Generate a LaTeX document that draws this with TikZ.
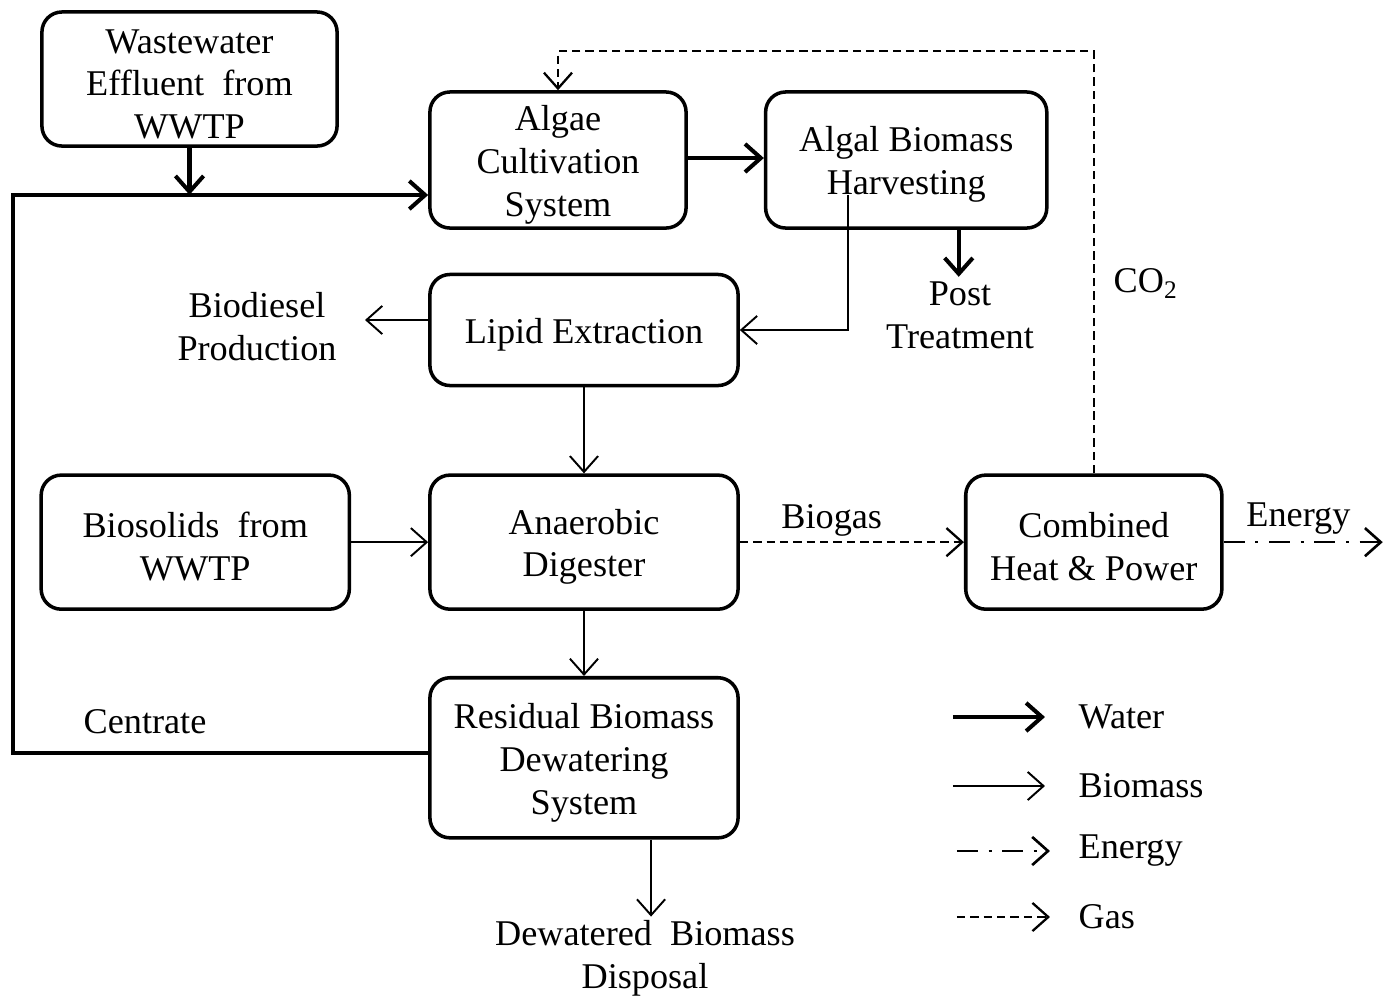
\documentclass[tikz,border=0pt]{standalone}
\usepackage{fontspec}
\setmainfont{Liberation Serif}
\usetikzlibrary{arrows.meta,positioning}
\newcommand{\topgap}{\rule{0pt}{9.8pt}}

\begin{document}
\begin{tikzpicture}[x=0.01cm,y=-0.01cm,>={Straight Barb[length=4.5pt,width=8pt]},
		font=\fontsize{10.3}{12.2}\selectfont,
		base node/.style={draw,rounded corners=5.7pt,line width=1pt,align=center,inner sep=0pt},
		label node/.style={align=center,inner sep=0pt},
		water/.style={->,line width=1.15pt},
		biomass/.style={->,line width=0.55pt},
		gas/.style={->,line width=0.65pt,dash pattern=on 2.4pt off 1.4pt},
		energy/.style={->,line width=0.75pt,dash pattern=on 6pt off 3pt on 0.9pt off 3pt}]
		
		\useasboundingbox (0,0) rectangle (1396,996);
		
		% process boxes
		\node[base node,minimum width=2.95cm,minimum height=1.34cm] (ww) at (189.5,79)
			{\topgap Wastewater\\Effluent\ \ from\\WWTP};
		\node[base node,minimum width=2.56cm,minimum height=1.36cm] (algae) at (558,160)
			{\topgap Algae\\Cultivation\\System};
		\node[base node,minimum width=2.81cm,minimum height=1.36cm] (harvest) [right=0.76cm of algae]
			{\topgap Algal Biomass\\Harvesting};
		\node[base node,minimum width=3.08cm,minimum height=1.11cm] (lipid) at (584,330)
			{\topgap Lipid Extraction};
		\node[base node,minimum width=3.08cm,minimum height=1.34cm] (anaer) [below=0.86cm of lipid]
			{\topgap Anaerobic\\Digester};
		\node[base node,minimum width=3.08cm,minimum height=1.34cm] (biosol) [left=0.77cm of anaer]
			{\topgap Biosolids\ \ from\\WWTP};
		\node[base node,minimum width=2.56cm,minimum height=1.34cm] (chp) [right=2.24cm of anaer]
			{\topgap Combined\\Heat \& Power};
		\node[base node,minimum width=3.08cm,minimum height=1.6cm] (resid) [below=0.65cm of anaer]
			{\topgap Residual Biomass\\Dewatering\\System};
		
		% outputs
		\node[label node] (biodiesel) at (257,327) {Biodiesel\\Production};
		\node[label node] (post) at (960,315) {Post\\Treatment};
		\node[label node] (disposal) at (645,958) {Dewatered\ \ Biomass\\Disposal};
		\node[label node] (centrate) at (145,722) {Centrate};
		\coordinate (biodieselin) at (365,320);
		\coordinate (energyout) at ([xshift=1.59cm]chp.east);
		
		% water
		\draw[water] (ww.south) -- ++(0,47);
		\draw[water] ([yshift=0.05cm]resid.west) -- ++(-415,0) |- ([yshift=-0.35cm]algae.west);
		\draw[water] ([yshift=0.02cm]algae.east) -- ([yshift=0.02cm]harvest.west);
		\draw[water] ([xshift=0.525cm]harvest.south) -- ++(0,47);
		
		% biomass
		\draw[biomass] ([xshift=-0.585cm,yshift=-0.35cm]harvest.center) |- (lipid.east);
		\draw[biomass] ([yshift=0.1cm]lipid.west) -- (biodieselin);
		\draw[biomass] (lipid) -- (anaer);
		\draw[biomass] (biosol) -- (anaer);
		\draw[biomass] (anaer) -- (resid);
		\draw[biomass] ([xshift=0.67cm]resid.south) -- ++(0,77);
		
		% gas and energy
		\draw[gas] (anaer.east) -- node[pos=0.41,above=-2pt] {Biogas} (chp.west);
		\draw[gas] (chp.north) -- node[pos=0.45,right=2pt] {CO\textsubscript{2}} ++(0,-422) -| (algae.north);
		\draw[energy] (chp.east) -- node[pos=0.47,above=-1.5pt] {Energy} (energyout);
		
		% legend
		\node[label node,anchor=west] (lwater) at (1078,717) {Water};
		\node[label node,anchor=west] (lbiomass) at (1078,786) {Biomass};
		\node[label node,anchor=west] (lenergy) at (1078,851) {Energy};
		\node[label node,anchor=west] (lgas) at (1078,917) {Gas};
		\draw[water] ([xshift=-1.25cm]lwater.west) -- ([xshift=-0.33cm]lwater.west);
		\draw[biomass] ([xshift=-1.25cm]lbiomass.west) -- ([xshift=-0.33cm]lbiomass.west);
		\draw[energy] ([xshift=-1.21cm]lenergy.west) -- ([xshift=-0.28cm]lenergy.west);
		\draw[gas] ([xshift=-1.21cm]lgas.west) -- ([xshift=-0.28cm]lgas.west);
\end{tikzpicture}
\end{document}
